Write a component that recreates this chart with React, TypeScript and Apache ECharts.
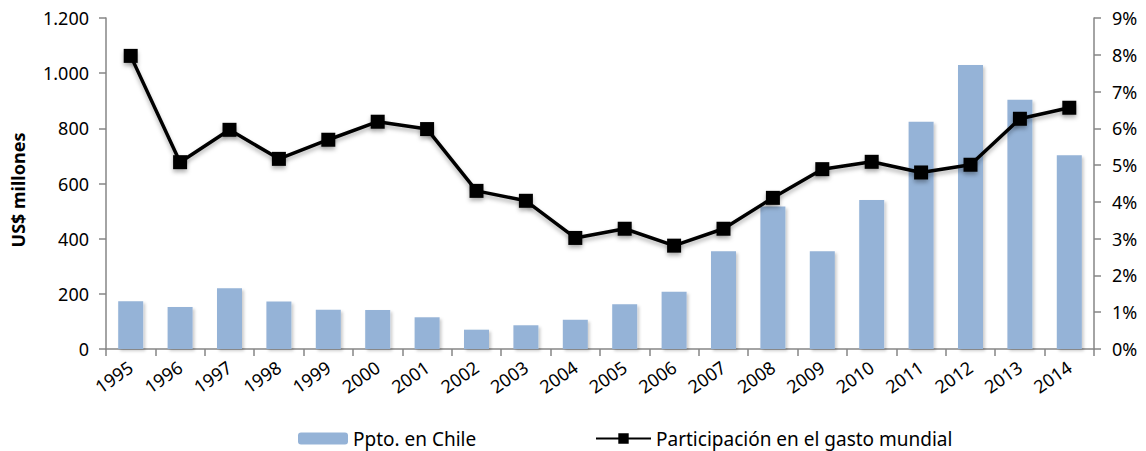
import React, { useEffect, useRef } from "react";
import * as echarts from "echarts";

const years = ["1995","1996","1997","1998","1999","2000","2001","2002","2003","2004","2005","2006","2007","2008","2009","2010","2011","2012","2013","2014"];
const presupuesto = [173,152,220,172,142,141,115,70,86,106,162,208,354,517,354,540,824,1030,904,702];
const participacion = [7.97,5.08,5.96,5.17,5.69,6.18,5.98,4.30,4.03,3.02,3.27,2.81,3.27,4.11,4.89,5.09,4.80,5.01,6.26,6.56];
const leftTicks = { min: 0, max: 1200, interval: 200 };
const rightTicks = { min: 0, max: 9, interval: 1 };
const leftAxisTitle = "US$ millones";

const FONT = "'Noto Sans', sans-serif";
const AXIS_GRAY = "#868686";

function fmtThousands(v: number): string {
  return String(v).replace(/\B(?=(\d{3})+(?!\d))/g, ".");
}

export default function App() {
  const ref = useRef<HTMLDivElement>(null);
  useEffect(() => {
    document.body.style.margin = "0";
    if (!ref.current) return;
    const chart = echarts.init(ref.current, undefined, { renderer: "svg" });
    chart.setOption({
      animation: false,
      textStyle: { fontFamily: FONT },
      grid: { left: 106, right: 52, top: 18, bottom: 102, containLabel: false },
      graphic: [
        {
          type: "text",
          x: 18,
          y: 190,
          rotation: Math.PI / 2,
          style: {
            text: leftAxisTitle,
            fontFamily: FONT,
            fontSize: 18,
            fontWeight: "bold",
            fill: "#000",
            align: "center",
            verticalAlign: "middle",
          },
        },
      ],
      legend: [
        {
          data: [{ name: "Ppto. en Chile" }],
          left: 293,
          top: 424,
          itemWidth: 50,
          itemHeight: 12,
          itemGap: 5,
          textStyle: { fontFamily: FONT, fontSize: 19, color: "#000" },
        },
        {
          data: [{ name: "Participación en el gasto mundial" }],
          left: 590,
          top: 424,
          itemWidth: 55,
          itemHeight: 13,
          textStyle: { fontFamily: FONT, fontSize: 19, color: "#000" },
        },
      ],
      xAxis: {
        type: "category",
        data: years,
        boundaryGap: true,
        axisLine: { lineStyle: { color: AXIS_GRAY, width: 1.5 } },
        axisTick: { show: true, alignWithLabel: false, length: 7, lineStyle: { color: AXIS_GRAY, width: 1.5 } },
        axisLabel: { rotate: 35, interval: 0, fontSize: 18, color: "#000", fontFamily: FONT, margin: 16 },
      },
      yAxis: [
        {
          type: "value",
          ...leftTicks,
          splitLine: { show: false },
          axisLine: { show: true, lineStyle: { color: AXIS_GRAY, width: 1.5 } },
          axisTick: { show: true, length: 7, lineStyle: { color: AXIS_GRAY, width: 1.5 } },
          axisLabel: { fontSize: 18, color: "#000", margin: 17, fontFamily: FONT, formatter: (v: number) => fmtThousands(v) },
        },
        {
          type: "value",
          ...rightTicks,
          position: "right",
          splitLine: { show: false },
          axisLine: { show: true, lineStyle: { color: AXIS_GRAY, width: 1.5 } },
          axisTick: { show: true, length: 7, lineStyle: { color: AXIS_GRAY, width: 1.5 } },
          axisLabel: { fontSize: 18, color: "#000", margin: 18, fontFamily: FONT, formatter: "{value}%" },
        },
      ],
      series: [
        {
          name: "Ppto. en Chile",
          type: "bar",
          data: presupuesto,
          yAxisIndex: 0,
          barWidth: 25,
          itemStyle: {
            color: "#95B3D7",
            shadowColor: "rgba(0,0,0,0.2)",
            shadowBlur: 3,
            shadowOffsetX: 2,
            shadowOffsetY: 2,
          },
        },
        {
          name: "Participación en el gasto mundial",
          type: "line",
          data: participacion,
          yAxisIndex: 1,
          symbol: "rect",
          symbolSize: 14,
          lineStyle: { color: "#000", width: 3.5, shadowColor: "rgba(0,0,0,0.3)", shadowBlur: 4, shadowOffsetY: 3 },
          itemStyle: { color: "#000", shadowColor: "rgba(0,0,0,0.3)", shadowBlur: 4, shadowOffsetY: 3 },
          z: 5,
        },
      ],
    });
    return () => chart.dispose();
  }, []);
  return <div ref={ref} style={{ width: 1146, height: 451 }} />;
}
